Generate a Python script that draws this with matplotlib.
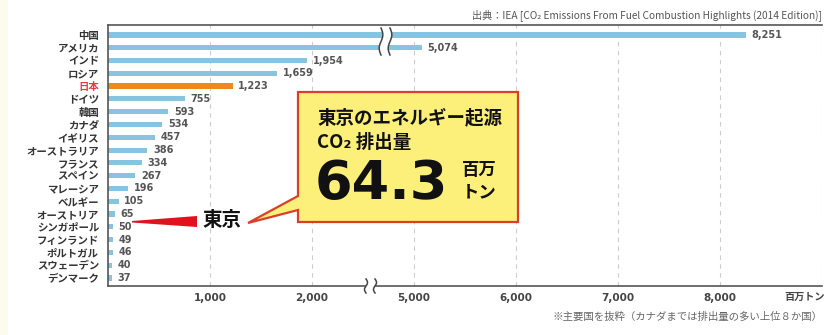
import matplotlib.pyplot as plt
import numpy as np
from matplotlib.patches import Polygon, Rectangle
from matplotlib.transforms import Affine2D

plt.rcParams['font.family'] = ['Noto Sans CJK JP', 'DejaVu Sans']

# CO2 emissions from fuel combustion (million tonnes)
countries = ['中国', 'アメリカ', 'インド', 'ロシア', '日本', 'ドイツ', '韓国', 'カナダ',
             'イギリス', 'オーストラリア', 'フランス', 'スペイン', 'マレーシア', 'ベルギー',
             'オーストリア', 'シンガポール', 'フィンランド', 'ポルトガル', 'スウェーデン', 'デンマーク']
emissions = [8251, 5074, 1954, 1659, 1223, 755, 593, 534, 457, 386, 334, 267, 196, 105,
             65, 50, 49, 46, 40, 37]
tick_values = [1000, 2000, 5000, 6000, 7000, 8000, 9000]
tick_labels = ['1,000', '2,000', '5,000', '6,000', '7,000', '8,000', '']
highlight = '日本'
tokyo_value = 64.3

# axis is broken between 2,000 and 5,000
BREAK_SHIFT = 3000 - 1000


def to_axis(v):
    v = np.asarray(v, dtype=float)
    return np.where(v > 2500, v - BREAK_SHIFT, v)


W, H = 827, 335
fig = plt.figure(figsize=(W / 100, H / 100), dpi=100)
fig.patch.set_facecolor('white')
# pixel coordinates, origin top-left
px = Affine2D().scale(1 / W, -1 / H).translate(0, 1) + fig.transFigure

ax = fig.add_axes([108 / W, 1 - 286 / H, (822 - 108) / W, (286 - 25) / H])
ax.set_facecolor('white')

y = np.arange(len(countries))
colors = ['#ee8a1c' if c == highlight else '#88c4e0' for c in countries]
heights = [0.48 if c == highlight else 0.4 for c in countries]
ax.barh(y, to_axis(emissions), height=heights, color=colors, zorder=2)

for yi, v in zip(y, emissions):
    ax.annotate(f'{v:,}', (float(to_axis(v)), yi), xytext=(4, 0), textcoords='offset points',
                va='center', ha='left', fontsize=7, color='#555555', fontweight='bold',
                family='DejaVu Sans')

ax.set_xlim(0, 7000)
ax.set_ylim(len(countries) - 1 + 0.63, -0.78)

ax.set_xticks(to_axis(tick_values))
ax.set_xticklabels(tick_labels, fontsize=7.5, color='#444444', fontweight='bold',
                   family='DejaVu Sans')
ax.set_yticks(y)
ax.set_yticklabels(countries, fontsize=7.5, color='#333333', fontweight='bold')
for lbl in ax.get_yticklabels():
    if lbl.get_text() == highlight:
        lbl.set_color('#e8383d')
ax.tick_params(axis='both', length=0)
ax.tick_params(axis='x', pad=5)
ax.tick_params(axis='y', pad=6.5)

ax.grid(axis='x', color='#cccccc', linestyle=(0, (4, 4)), linewidth=0.8, zorder=0)
ax.set_axisbelow(True)
for side in ['top', 'left', 'bottom']:
    ax.spines[side].set_color('#555555')
    ax.spines[side].set_linewidth(1.2)
ax.spines['right'].set_visible(False)


def squiggle_pair(x0, gap, y0, y1, amp=1.8):
    t = np.linspace(0, 1, 40)
    yy = y0 + (y1 - y0) * t
    dx = amp * np.sin(2 * np.pi * t)
    left = x0 + dx
    right = x0 + gap + dx
    fill = Polygon(np.column_stack([np.r_[left, right[::-1]], np.r_[yy, yy[::-1]]]),
                   closed=True, facecolor='white', edgecolor='none', transform=px)
    fig.add_artist(fill)
    for xs in (left, right):
        fig.add_artist(plt.Line2D(xs, yy, color='#444444', linewidth=1.1, transform=px))


# break marks on the two long bars and on the x axis
squiggle_pair(381, 9, 28, 55)
squiggle_pair(366, 9, 279, 293, amp=1.5)

# light margin at the left edge
fig.add_artist(Rectangle((0, 0), 8, H, facecolor='#fcfbee', edgecolor='none', transform=px))

# red pointer towards Tokyo
fig.add_artist(Polygon([(132, 221), (197, 216), (197, 227), (132, 222.5)], closed=True,
                       facecolor='#e0121f', edgecolor='none', transform=px))
fig.text(222, 220, '東京', transform=px, ha='center', va='center', fontsize=14,
         fontweight='bold', color='#111111')

# callout box
box = [(298, 92), (518, 92), (518, 222), (298, 222), (298, 210), (248, 223), (298, 196)]
fig.add_artist(Polygon(box, closed=True, facecolor='#fdf07a', edgecolor='#d9402a',
                       linewidth=1.6, transform=px, joinstyle='miter'))
fig.text(317, 118, '東京のエネルギー起源', transform=px, ha='left', va='center',
         fontsize=13.3, fontweight='bold', color='#111111')
fig.text(317, 143, 'CO₂ 排出量', transform=px, ha='left', va='center',
         fontsize=13.3, fontweight='bold', color='#111111')
fig.text(315, 199, f'{tokyo_value}', transform=px, ha='left', va='baseline',
         fontsize=39, fontweight='bold', color='#111111', family='DejaVu Sans')
fig.text(462, 170, '百万', transform=px, ha='left', va='center',
         fontsize=12.5, fontweight='bold', color='#111111')
fig.text(462, 192, 'トン', transform=px, ha='left', va='center',
         fontsize=12.5, fontweight='bold', color='#111111')

# source, unit and note
fig.text(822, 15, '出典：IEA [CO₂ Emissions From Fuel Combustion Highlights (2014 Edition)]',
         transform=px, ha='right', va='center', fontsize=7.3, color='#555555')
fig.text(825, 297, '百万トン', transform=px, ha='right', va='center', fontsize=7.3,
         fontweight='bold', color='#444444')
fig.text(552, 317, '※主要国を抜粋（カナダまでは排出量の多い上位８か国）', transform=px,
         ha='left', va='center', fontsize=7.5, color='#666666')

fig.savefig('out.png', dpi=100, facecolor=fig.get_facecolor())
